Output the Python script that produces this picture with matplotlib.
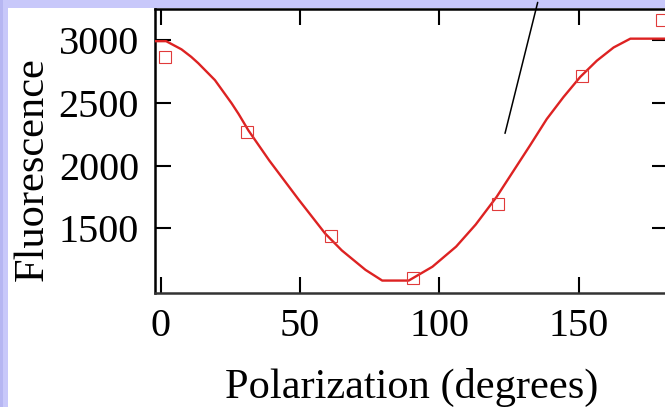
import matplotlib
matplotlib.use("Agg")
import matplotlib.pyplot as plt
from matplotlib.patches import Rectangle

# measured points (open squares)
pol_deg = [1.5, 31, 61, 90.5, 121, 151, 180]
fluor = [2862, 2265, 1440, 1103, 1694, 2713, 3159]

# fitted curve
fit_deg = [-2, 2, 7.5, 11, 13.5, 19.5, 25.5, 28, 31.5, 39, 49.5, 59, 65, 73.5,
           79.5, 89, 97.5, 106, 113, 120.5, 126.5, 132.5, 138.5, 144.5, 150.5,
           156.5, 162.5, 168.5, 182]
fit_val = [2990, 2990, 2925, 2865, 2815, 2680, 2495, 2410, 2280, 2040, 1730,
           1460, 1325, 1170, 1085, 1085, 1195, 1355, 1530, 1750, 1955, 2160,
           2370, 2545, 2705, 2835, 2940, 3010, 3010]

xticks = [0, 50, 100, 150]
yticks = [1500, 2000, 2500, 3000]

plt.rcParams["font.family"] = ["Liberation Serif", "DejaVu Serif"]

W, H = 665, 407
fig = plt.figure(figsize=(W / 100, H / 100), dpi=100)
fig.patch.set_facecolor("#c8c8fa")
fig.add_artist(Rectangle((0, 0), 3 / W, 1, transform=fig.transFigure,
                         facecolor="#b6b6f2", edgecolor="none", zorder=0))
fig.add_artist(Rectangle((8 / W, 0), 1, (H - 8) / H, transform=fig.transFigure,
                         facecolor="white", edgecolor="none", zorder=0))

ax = fig.add_axes([155 / W, (H - 292.5) / H, 513 / W, 284 / H])
ax.set_facecolor("none")
ax.plot(fit_deg, fit_val, color="#dd2222", lw=1.7, zorder=3)
ax.plot(pol_deg, fluor, ls="none", marker="s", ms=8, mfc="none",
        mec="#e03a3a", mew=0.8, zorder=4)

ax.set_xlim(-2, 182)
ax.set_ylim(990, 3250)
ax.set_xticks(xticks)
ax.set_yticks(yticks)
ax.tick_params(direction="in", top=True, right=True, length=11.5, width=1.5,
               labelsize=29, color="black")
ax.tick_params(axis="y", pad=11.5)
ax.tick_params(axis="x", pad=11)
for s in ax.spines.values():
    s.set_linewidth(1.8)
    s.set_color("black")
ax.spines["bottom"].set_color("#333333")

ax.set_xlabel("Polarization (degrees)", fontsize=30.5, va="baseline")
ax.xaxis.set_label_coords(0.5, (292.5 - 398) / 284)
ax.set_ylabel("Fluorescence", fontsize=30.5, va="baseline")
ax.yaxis.set_label_coords((43 - 155) / 513, (292.5 - 169) / 284)

# pointer line running up off the top of the panel
ax.annotate("", xy=(123.3, 2235), xytext=(135.5, 3320),
            arrowprops=dict(arrowstyle="-", color="black", lw=1.1),
            annotation_clip=False)

fig.savefig("out.png", dpi=100)
